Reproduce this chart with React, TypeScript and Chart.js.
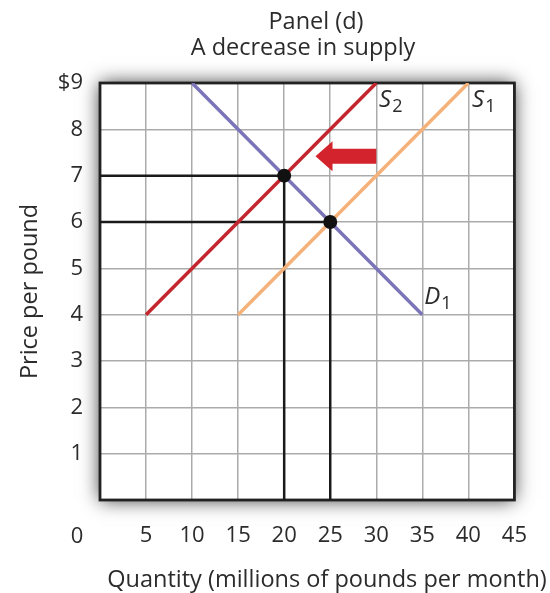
import React, { useEffect, useRef } from "react";
import { Chart, registerables } from "chart.js";
Chart.register(...registerables);

// ---- data ----
const titleLines = ["Panel (d)", "A decrease in supply"];
const xTitle = "Quantity (millions of pounds per month)";
const yTitle = "Price per pound";
const xTicks = [0, 5, 10, 15, 20, 25, 30, 35, 40, 45];
const yTicks = [0, 1, 2, 3, 4, 5, 6, 7, 8, 9];

const demandQ = [10, 35];
const demandP = [9, 4];
const supply1Q = [15, 40];
const supply1P = [4, 9];
const supply2Q = [5, 30];
const supply2P = [4, 9];
const eqQ = [20, 25];
const eqP = [7, 6];

const arrowFromQ = 30;
const arrowToQ = 23.4;
const arrowP = 7.42;

const curveLabels = ["S", "S", "D"];
const curveSubs = ["2", "1", "1"];
const curveLabelQ = [30.3, 40.4, 35.2];
const curveLabelP = [8.48, 8.48, 4.23];

// ---- styles ----
const FONT = "'Open Sans', sans-serif";
const TEXT = "#2b2b2b";
const RED = "#c4262e";
const ORANGE = "#f4b27a";
const PURPLE = "#7c74b8";
const BLACK = "#1a1a1a";

const pts = (qs: number[], ps: number[]) => qs.map((q, i) => ({ x: q, y: ps[i] }));

const decor = {
  id: "decor",
  beforeDraw(chart: any) {
    const { ctx, chartArea: a } = chart;
    ctx.save();
    ctx.fillStyle = "#ffffff";
    ctx.shadowColor = "rgba(0,0,0,0.8)";
    ctx.shadowBlur = 18;
    ctx.fillRect(a.left, a.top, a.right - a.left, a.bottom - a.top);
    ctx.restore();
  },
  beforeDatasetsDraw(chart: any) {
    const { ctx, chartArea: a } = chart;
    ctx.save();
    ctx.strokeStyle = "#222222";
    ctx.lineWidth = 2.8;
    ctx.strokeRect(a.left, a.top, a.right - a.left, a.bottom - a.top);
    ctx.restore();
  },
  afterDatasetsDraw(chart: any) {
    const { ctx } = chart;
    const xs = chart.scales.x;
    const ys = chart.scales.y;
    // arrow
    const tipX = xs.getPixelForValue(arrowToQ);
    const tailX = xs.getPixelForValue(arrowFromQ);
    const cy = ys.getPixelForValue(arrowP);
    const headLen = 17;
    const headH = 15;
    const shaftH = 7.5;
    ctx.save();
    ctx.fillStyle = "#d3232c";
    ctx.beginPath();
    ctx.moveTo(tipX, cy);
    ctx.lineTo(tipX + headLen, cy - headH);
    ctx.lineTo(tipX + headLen, cy - shaftH);
    ctx.lineTo(tailX, cy - shaftH);
    ctx.lineTo(tailX, cy + shaftH);
    ctx.lineTo(tipX + headLen, cy + shaftH);
    ctx.lineTo(tipX + headLen, cy + headH);
    ctx.closePath();
    ctx.fill();
    // curve labels
    ctx.fillStyle = TEXT;
    ctx.textBaseline = "alphabetic";
    ctx.textAlign = "left";
    curveLabels.forEach((lab, i) => {
      const x = xs.getPixelForValue(curveLabelQ[i]);
      const y = ys.getPixelForValue(curveLabelP[i]);
      ctx.font = `italic 24px ${FONT}`;
      ctx.fillText(lab, x, y);
      const w = ctx.measureText(lab).width;
      ctx.font = `18px ${FONT}`;
      ctx.fillText(curveSubs[i], x + w + 1, y + 5);
    });
    ctx.restore();
  },
  afterDraw(chart: any) {
    const { ctx } = chart;
    const xs = chart.scales.x;
    ctx.save();
    ctx.fillStyle = TEXT;
    ctx.textAlign = "center";
    ctx.textBaseline = "alphabetic";
    ctx.font = `23.5px ${FONT}`;
    ctx.fillText(titleLines[0], 316, 29);
    ctx.fillText(titleLines[1], 303, 55);
    ctx.fillText(xTitle, 327, 587);
    // origin label
    ctx.font = `22px ${FONT}`;
    ctx.textBaseline = "middle";
    ctx.fillText(String(xTicks[0]), xs.getPixelForValue(xTicks[0]) - 23, 537);
    ctx.restore();
  },
};

export default function App() {
  const ref = useRef<HTMLCanvasElement | null>(null);
  useEffect(() => {
    if (!ref.current) return;
    const lineDs = (label: string, data: any[], color: string, width: number, order: number) => ({
      label,
      data,
      showLine: true,
      borderColor: color,
      backgroundColor: color,
      borderWidth: width,
      pointRadius: 0,
      pointHoverRadius: 0,
      order,
    });
    const chart = new Chart(ref.current, {
      type: "scatter",
      data: {
        datasets: [
          lineDs("guide7", [{ x: 0, y: eqP[0] }, { x: eqQ[0], y: eqP[0] }, { x: eqQ[0], y: 0 }], BLACK, 2.5, 3),
          lineDs("guide6", [{ x: 0, y: eqP[1] }, { x: eqQ[1], y: eqP[1] }, { x: eqQ[1], y: 0 }], BLACK, 2.5, 3),
          lineDs("S1", pts(supply1Q, supply1P), ORANGE, 3.5, 2),
          lineDs("S2", pts(supply2Q, supply2P), RED, 3.5, 2),
          lineDs("D1", pts(demandQ, demandP), PURPLE, 3.5, 2),
          {
            label: "eq",
            data: pts(eqQ, eqP),
            showLine: false,
            pointRadius: 7,
            pointBackgroundColor: "#111111",
            pointBorderColor: "#111111",
            pointBorderWidth: 0,
            order: 0,
          },
        ],
      },
      options: {
        responsive: false,
        animation: false,
        events: [],
        layout: { padding: { left: 0, top: 83, right: 31, bottom: 0 } },
        plugins: { legend: { display: false }, tooltip: { enabled: false }, title: { display: false } },
        scales: {
          x: {
            type: "linear",
            min: 0,
            max: 45,
            afterBuildTicks: (s: any) => {
              s.ticks = xTicks.map((v) => ({ value: v }));
            },
            afterFit: (s: any) => {
              s.height = 93;
            },
            grid: { color: "#ababab", lineWidth: 1.5, drawTicks: false },
            border: { display: false },
            ticks: {
              padding: 23,
              color: TEXT,
              font: { family: FONT, size: 22 },
              maxRotation: 0,
              autoSkip: false,
              callback: (v: any) => (v === 0 ? "" : String(v)),
            },
          },
          y: {
            type: "linear",
            min: 0,
            max: 9,
            afterBuildTicks: (s: any) => {
              s.ticks = yTicks.map((v) => ({ value: v }));
            },
            afterFit: (s: any) => {
              s.width = 100;
            },
            grid: { color: "#ababab", lineWidth: 1.5, drawTicks: false },
            border: { display: false },
            title: {
              display: true,
              text: yTitle,
              color: TEXT,
              font: { family: FONT, size: 23.5 },
              padding: { top: 16, bottom: 0 },
            },
            ticks: {
              padding: 17,
              color: TEXT,
              font: { family: FONT, size: 22 },
              autoSkip: false,
              callback: (v: any) => (v === 0 ? "" : v === 9 ? "$" + v : String(v)),
            },
          },
        },
      },
      plugins: [decor],
    });
    return () => chart.destroy();
  }, []);
  return (
    <div style={{ position: "absolute", left: 0, top: 0, width: 550, height: 593, background: "#fff" }}>
      <canvas ref={ref} width={550} height={593} style={{ display: "block" }} />
    </div>
  );
}
